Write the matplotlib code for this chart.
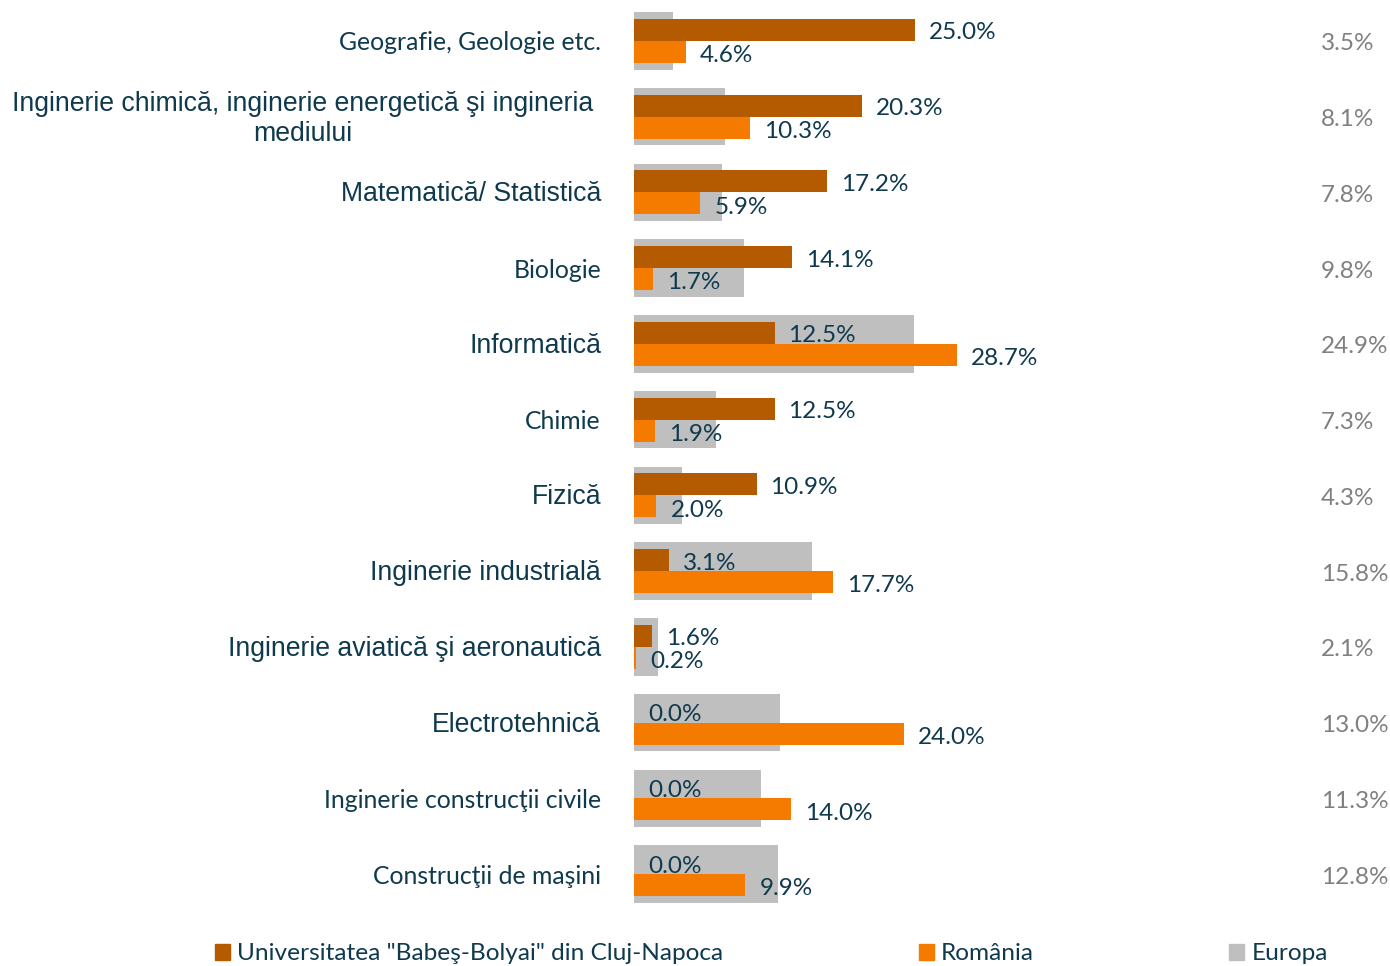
import matplotlib
matplotlib.use("Agg")
import matplotlib.pyplot as plt
from matplotlib.patches import Patch

categories = [
    "Geografie, Geologie etc.",
    "Inginerie chimică, inginerie energetică şi ingineria\nmediului",
    "Matematică/ Statistică",
    "Biologie",
    "Informatică",
    "Chimie",
    "Fizică",
    "Inginerie industrială",
    "Inginerie aviatică şi aeronautică",
    "Electrotehnică",
    "Inginerie construcţii civile",
    "Construcţii de maşini",
]
ubb = [25.0, 20.3, 17.2, 14.1, 12.5, 12.5, 10.9, 3.1, 1.6, 0.0, 0.0, 0.0]
romania = [4.6, 10.3, 5.9, 1.7, 28.7, 1.9, 2.0, 17.7, 0.2, 24.0, 14.0, 9.9]
europa = [3.5, 8.1, 7.8, 9.8, 24.9, 7.3, 4.3, 15.8, 2.1, 13.0, 11.3, 12.8]
series_names = ['Universitatea "Babeş-Bolyai" din Cluj-Napoca', "România", "Europa"]

# label font style per category (Calibri-like vs Arial-like in the original)
label_fonts = ["Lato", "Liberation Sans", "Liberation Sans", "Lato", "Liberation Sans", "Lato",
               "Liberation Sans", "Liberation Sans", "Liberation Sans", "Liberation Sans", "Lato", "Lato"]

C_UBB = "#B45A00"
C_RO = "#F47B00"
C_EU = "#BFBFBF"
C_TXT = "#0F3A4E"
C_EUTXT = "#808080"

W, H = 1390, 966
fig = plt.figure(figsize=(W / 100, H / 100), dpi=100)
px_per_unit = 11.24
x0 = 634
top = 3.1
bot = 911.9
xmax = 60
ax = fig.add_axes([x0 / W, 1 - bot / H, xmax * px_per_unit / W, (bot - top) / H])
row_px = (bot - top) / 12.0

n = len(categories)
ys = list(range(n))
ax.barh(ys, europa, height=0.76, color=C_EU, zorder=1)
ax.barh([y - 0.145 for y in ys], ubb, height=0.29, color=C_UBB, zorder=2)
ax.barh([y + 0.145 for y in ys], romania, height=0.29, color=C_RO, zorder=2)

ax.set_xlim(0, xmax)
ax.set_ylim(n - 0.5, -0.5)
ax.axis("off")

lab_off = 14 / px_per_unit
dy = 3 / row_px
for y, u, r, e in zip(ys, ubb, romania, europa):
    ax.text(u + lab_off, y - 0.145 + dy, f"{u:.1f}%", ha="left", va="center", fontsize=17.5,
            family="Lato", color=C_TXT, zorder=3)
    ax.text(r + lab_off, y + 0.155 + dy, f"{r:.1f}%", ha="left", va="center", fontsize=17.5,
            family="Lato", color=C_TXT, zorder=3)
    ax.text((1321 - x0) / px_per_unit, y + dy, f"{e:.1f}%", ha="left", va="center", fontsize=17.5,
            family="Lato", color=C_EUTXT, clip_on=False)

for y, cat, fam in zip(ys, categories, label_fonts):
    xr = 601 if "\n" not in cat else 593
    fs = 17.8 if fam == "Lato" else 19.2
    ax.text((xr - x0) / px_per_unit, y + 2 / row_px, cat, ha="right", va="center", fontsize=fs,
            family=fam, color=C_TXT, multialignment="center", clip_on=False,
            linespacing=1.22)

handles = [Patch(color=C_UBB), Patch(color=C_RO), Patch(color=C_EU)]
leg = fig.legend(handles, series_names, loc="center", bbox_to_anchor=(771.5 / W, 1 - 954 / H),
                 ncol=3, frameon=False, prop={"family": "Lato", "size": 17.6},
                 handlelength=0.6, handleheight=0.6, handletextpad=0.3, columnspacing=8.0,
                 borderaxespad=0, borderpad=0)
for t in leg.get_texts():
    t.set_color(C_TXT)

fig.savefig("out.png", dpi=100)
